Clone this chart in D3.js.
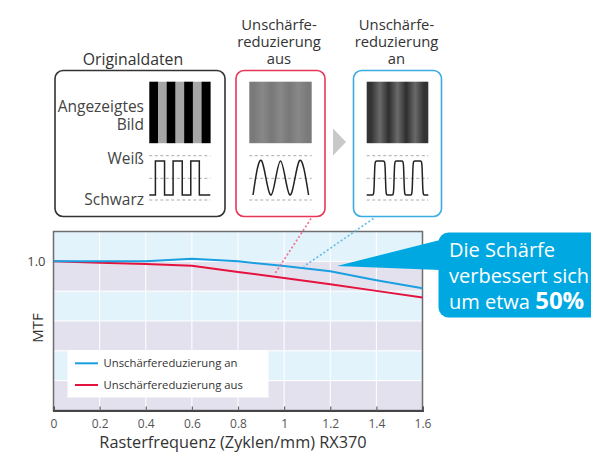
<!DOCTYPE html>
<html><head><meta charset="utf-8">
<script src="https://cdn.jsdelivr.net/npm/d3@7"></script>
<style>
html,body{margin:0;padding:0;background:#fff;}
svg{display:block;font-family:"Open Sans",sans-serif;}
</style></head>
<body><svg id="c" width="591" height="457"></svg>
<script>
// ---- data ----
const freq = [0, 0.2, 0.4, 0.6, 0.8, 1.0, 1.2, 1.4, 1.6];
const mtfOn = [1.0, 1.0, 1.0, 1.018, 1.0, 0.969, 0.933, 0.873, 0.82];
const mtfOff = [1.0, 0.991, 0.982, 0.971, 0.929, 0.889, 0.847, 0.802, 0.758];
const seriesNames = ["Unschärfereduzierung an", "Unschärfereduzierung aus"];
const xTicks = [0, 0.2, 0.4, 0.6, 0.8, 1, 1.2, 1.4, 1.6];
const xTickLabels = ["0", "0.2", "0.4", "0.6", "0.8", "1", "1.2", "1.4", "1.6"];
const yTicks = [1.0];
const yTickLabels = ["1.0"];
const bandEdges = [0, 0.2, 0.4, 0.6, 0.8, 1.0, 1.2];
const xTitle = "Rasterfrequenz (Zyklen/mm) RX370";
const yTitle = "MTF";
const calloutLines = ["Die Schärfe", "verbessert sich", "um etwa "];
const calloutBold = "50%";
const panelTitles = [["Originaldaten"], ["Unschärfe-", "reduzierung", "aus"], ["Unschärfe-", "reduzierung", "an"]];
// illustration waveforms (normalised phase 0..1, level 0..1)
const squareWave = [[0,0],[0.1,0],[0.1,1],[0.25,1],[0.25,0],[0.39,0],[0.39,1],[0.54,1],[0.54,0],[0.68,0],[0.68,1],[0.82,1],[0.82,0],[1,0]];
const sineWave = [[0.06,0],[0.2,1],[0.35,0],[0.5,1],[0.65,0],[0.8,1],[0.95,0]];
const roundSquare = [[0,0],[0.1,0],[0.12,0],[0.13,1],[0.15,1],[0.28,1],[0.3,1],[0.31,0],[0.33,0],[0.42,0],[0.44,0],[0.45,1],[0.47,1],[0.58,1],[0.6,1],[0.61,0],[0.63,0],[0.72,0],[0.74,0],[0.75,1],[0.77,1],[0.88,1],[0.9,1],[0.91,0],[0.93,0],[1,0]];
const stripesOrig = ["#000","#a6a6a6","#000","#a6a6a6","#000","#a6a6a6","#000"];
const stripesOff = ["#7a7a7a","#888","#787878","#888","#787878","#888","#7a7a7a"];
const stripesOn = ["#333","#6a6a6a","#2e2e2e","#6a6a6a","#2e2e2e","#6a6a6a","#333"];

const BLUE = "#1a9fe0", RED = "#e5123d", CALL = "#00a8e2";
const svg = d3.select("#c");
const defs = svg.append("defs");

// ---- chart ----
const m = {l:53.5, r:422.5, t:231.5, b:410.5};
const x = d3.scaleLinear().domain([0,1.6]).range([m.l, m.r]);
const y = d3.scaleLinear().domain([0,1.2]).range([m.b, m.t]);

const g = svg.append("g");
d3.pairs(bandEdges).forEach(([a,b],i)=>{
  g.append("rect").attr("x",x(0)).attr("width",x(1.6)-x(0))
   .attr("y",y(b)).attr("height",y(a)-y(b))
   .attr("fill", i%2===0 ? "#e4e1ef" : "#e3f3fb");
});
g.selectAll(".vg").data(xTicks.slice(1,-1)).enter().append("line")
 .attr("x1",d=>x(d)).attr("x2",d=>x(d)).attr("y1",m.t).attr("y2",m.b)
 .attr("stroke","#fff").attr("stroke-width",1);
g.selectAll(".hg").data(bandEdges.slice(1,-1)).enter().append("line")
 .attr("x1",m.l).attr("x2",m.r).attr("y1",d=>y(d)).attr("y2",d=>y(d))
 .attr("stroke","#fff").attr("stroke-width",1);
g.append("rect").attr("x",m.l).attr("y",m.t).attr("width",m.r-m.l).attr("height",m.b-m.t)
 .attr("fill","none").attr("stroke","#6e6e6e").attr("stroke-width",1.5);

// x axis
const xa = g.append("g").attr("transform",`translate(0,${m.b})`)
 .call(d3.axisBottom(x).tickValues(xTicks).tickSize(-4).tickPadding(9).tickFormat((d,i)=>xTickLabels[i]));
xa.attr("font-size",12).attr("font-family","Open Sans");
xa.select(".domain").attr("stroke","#444").attr("stroke-width",2);
xa.selectAll(".tick line").attr("stroke","#666").attr("stroke-width",1.2);
xa.selectAll("text").attr("fill","#555");
// y axis labels
const ya = g.append("g").attr("transform",`translate(${m.l},0)`)
 .call(d3.axisLeft(y).tickValues(yTicks).tickSize(0).tickPadding(8).tickFormat((d,i)=>yTickLabels[i]));
ya.attr("font-size",13).attr("font-family","Open Sans");
ya.select(".domain").remove();
ya.selectAll("text").attr("fill","#444");

// dotted connectors
function dotted(x1,y1,fx,fy,col){
  svg.append("line").attr("x1",x1).attr("y1",y1).attr("x2",x(fx)).attr("y2",y(fy))
   .attr("stroke",col).attr("stroke-width",1.6).attr("stroke-dasharray","2,2.2").attr("opacity",0.85);
}
dotted(311,218.5,0.957,0.91,"#ec5a78");
dotted(373.5,218.5,1.085,0.965,"#4cb3e6");

// lines
const line = d3.line().x((d,i)=>x(freq[i])).y(d=>y(d));
g.append("path").datum(mtfOff).attr("d",line).attr("fill","none").attr("stroke",RED).attr("stroke-width",2);
g.append("path").datum(mtfOn).attr("d",line).attr("fill","none").attr("stroke",BLUE).attr("stroke-width",2);

// legend
const lg = g.append("g");
lg.append("rect").attr("x",67.5).attr("y",350).attr("width",201).attr("height",47.5).attr("fill","#fff");
[[BLUE,363.3],[RED,385]].forEach(([c,yy],i)=>{
  lg.append("line").attr("x1",75).attr("x2",98).attr("y1",yy).attr("y2",yy).attr("stroke",c).attr("stroke-width",2);
  lg.append("text").attr("x",103.5).attr("y",yy+4).attr("font-size",11.3).attr("fill","#333").text(seriesNames[i]);
});

// axis titles
svg.append("text").attr("x",233).attr("y",448).attr("text-anchor","middle").attr("font-size",16.3).attr("fill","#333").text(xTitle);
svg.append("text").attr("transform","translate(42.5,328) rotate(-90)").attr("text-anchor","middle").attr("font-size",15).attr("fill","#333").text(yTitle);

// callout
svg.append("path").attr("d","M337,266 L440,240 L440,270 Z").attr("fill",CALL);
svg.append("rect").attr("x",438.5).attr("y",232.5).attr("width",170).attr("height",85).attr("rx",10).attr("fill",CALL);
const ct = svg.append("g").attr("font-size",20).attr("fill","#fff");
ct.append("text").attr("x",449).attr("y",257).text(calloutLines[0]);
ct.append("text").attr("x",449).attr("y",283).text(calloutLines[1]);
const t3 = ct.append("text").attr("x",449).attr("y",309).text(calloutLines[2]);
t3.append("tspan").attr("font-weight","bold").attr("font-size",24).text(calloutBold);

// ---- top panels ----
function panel(x0,x1,col,titleLines,tcx,titleBase,fs){
  svg.append("rect").attr("x",x0).attr("y",70.5).attr("width",x1-x0).attr("height",146).attr("rx",8)
   .attr("fill","#fff").attr("stroke",col).attr("stroke-width",1.6);
  titleLines.forEach((s,i)=>svg.append("text").attr("x",tcx).attr("y",titleBase+i*17.2)
   .attr("text-anchor","middle").attr("font-size",fs).attr("fill","#333").text(s));
}
function stripes(x0,x1,cols,id,smooth){
  const sx = d3.scaleLinear().domain([0,cols.length]).range([x0,x1]);
  if(!smooth){
    cols.forEach((c,i)=>svg.append("rect").attr("x",sx(i)).attr("y",81.7).attr("width",sx(i+1)-sx(i)+0.3).attr("height",61.5).attr("fill",c));
  } else {
    const gr = defs.append("linearGradient").attr("id",id).attr("x1","0").attr("x2","1").attr("y1","0").attr("y2","0");
    cols.forEach((c,i)=>gr.append("stop").attr("offset",(i+0.5)/cols.length).attr("stop-color",c));
    svg.append("rect").attr("x",x0).attr("y",81.7).attr("width",x1-x0).attr("height",61.5).attr("fill",`url(#${id})`);
  }
}
function wave(x0,x1,pts,curve){
  [155.7,178.3,200].forEach(yy=>svg.append("line").attr("x1",x0).attr("x2",x1).attr("y1",yy).attr("y2",yy)
    .attr("stroke","#aaa").attr("stroke-width",1).attr("stroke-dasharray","3,2.5"));
  const wx = d3.scaleLinear().domain([0,1]).range([x0,x1]);
  const wy = d3.scaleLinear().domain([0,1]).range([195,161]);
  svg.append("path").attr("d",d3.line().x(d=>wx(d[0])).y(d=>wy(d[1])).curve(curve)(pts))
   .attr("fill","none").attr("stroke","#222").attr("stroke-width",1.5);
}
panel(55,225,"#333",panelTitles[0],133,64.5,15.8);
panel(236,325,"#e6375a",panelTitles[1],279,29.5,14.8);
panel(353.5,441.5,"#3aabe3",panelTitles[2],396.5,29.5,14.8);

const lab = svg.append("g").attr("font-size",15.5).attr("fill","#444").attr("text-anchor","end");
lab.append("text").attr("x",144).attr("y",111.5).text("Angezeigtes");
lab.append("text").attr("x",144).attr("y",129.5).text("Bild");
lab.append("text").attr("x",144).attr("y",163.5).text("Weiß");
lab.append("text").attr("x",144).attr("y",205).text("Schwarz");

stripes(149.3,210.3,stripesOrig,"g0",false);
wave(149.3,210.3,squareWave,d3.curveLinear);
stripes(249.3,311.7,stripesOff,"g1",true);
wave(249.3,311.7,sineWave,d3.curveNatural);
stripes(366.7,428.3,stripesOn,"g2",true);
wave(366.7,428.3,roundSquare,d3.curveBasis);

svg.append("path").attr("d","M333,128.5 L346,142 L333,155.5 Z").attr("fill","#c8c8c8");
</script></body></html>
